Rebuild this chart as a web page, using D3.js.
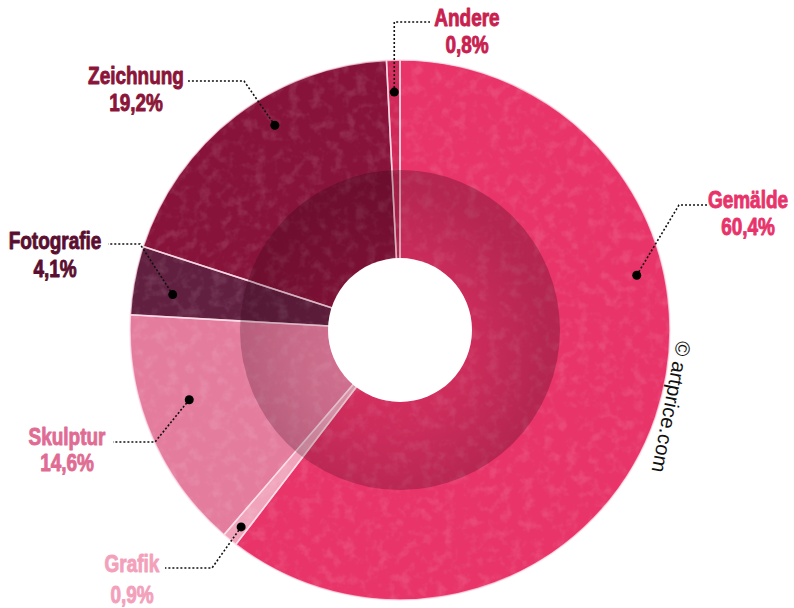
<!DOCTYPE html>
<html>
<head>
<meta charset="utf-8">
<script src="https://cdn.jsdelivr.net/npm/d3@7"></script>
<style>
  body { margin: 0; background: #fff; }
  svg { display: block; }
  .lbl { font-family: "Liberation Sans", Arial, sans-serif; font-weight: bold; font-size: 24px; }
</style>
</head>
<body>
<div id="chart"></div>
<script>
// data
const categories = ["Gemälde", "Grafik", "Skulptur", "Fotografie", "Zeichnung", "Andere"];
const shares = [60.4, 0.9, 14.6, 4.1, 19.2, 0.8];
const sliceColors = ["#e83468", "#f0a3bb", "#e47c9e", "#622040", "#87133a", "#d02858"];
const labelColors = ["#e8336a", "#f3a0bb", "#e06c93", "#5a0f30", "#8a1538", "#c8204f"];

// label layout (dot position inside slice + text/leader placement)
const layout = [
  { frac: 0.354, r: 243, tx: 748, ty: 208, gap: 27, ex: 707, ey: 205, kx: 679 },
  { frac: 0.45, r: 253, tx: 132, ty: 572, gap: 31, ex: 165, ey: 568, kx: 212 },
  { frac: 0.59, r: 222, tx: 67, ty: 445, gap: 26, ex: 113, ey: 442, kx: 155 },
  { frac: 0.38, r: 230, tx: 55, ty: 249, gap: 28, ex: 108, ey: 244, kx: 140 },
  { frac: 0.587, r: 240, tx: 136, ty: 84, gap: 27, ex: 188, ey: 81, kx: 244 },
  { frac: 0.52, r: 238, tx: 467, ty: 26, gap: 27, ex: 430, ey: 22, kx: null }
];

const W = 794, H = 608;
const cx = 400, cy = 330;
const rOuter = 270, rMid = 160, rHole = 72;

const svg = d3.select("#chart").append("svg")
  .attr("width", W).attr("height", H);

const defs = svg.append("defs");
const grad = defs.append("radialGradient").attr("id", "ring")
  .attr("cx", 0.45).attr("cy", 0.55).attr("r", 0.5);
grad.append("stop").attr("offset", "0%").attr("stop-color", "#2a0010").attr("stop-opacity", 0.06);
grad.append("stop").attr("offset", "55%").attr("stop-color", "#2a0010").attr("stop-opacity", 0.15);
grad.append("stop").attr("offset", "100%").attr("stop-color", "#2a0010").attr("stop-opacity", 0.27);

// faint grunge speckle texture
const tex = defs.append("filter").attr("id", "grunge")
  .attr("x", 0).attr("y", 0).attr("width", 1).attr("height", 1);
tex.append("feTurbulence").attr("type", "fractalNoise")
  .attr("baseFrequency", 0.09).attr("numOctaves", 3).attr("seed", 4).attr("result", "n");
tex.append("feColorMatrix").attr("in", "n").attr("type", "matrix")
  .attr("values", "0 0 0 0 1  0 0 0 0 1  0 0 0 0 1  0 0 0 -3 1.6");
tex.append("feComposite").attr("in2", "SourceGraphic").attr("operator", "in");

const g = svg.append("g").attr("transform", `translate(${cx},${cy})`);

const pie = d3.pie().sort(null).value(d => d.v);
const arcs = pie(shares.map((v, i) => ({ v, i })));

const arc = d3.arc().innerRadius(0).outerRadius(rOuter);

g.selectAll("path.slice")
  .data(arcs)
  .join("path")
  .attr("class", "slice")
  .attr("d", arc)
  .attr("fill", d => sliceColors[d.data.i]);

// texture on top of slices
g.append("circle").attr("r", rOuter)
  .attr("fill", "#000")
  .attr("filter", "url(#grunge)")
  .attr("opacity", 0.1);

// light separators
g.selectAll("path.sep")
  .data(arcs)
  .join("path")
  .attr("class", "sep")
  .attr("d", arc)
  .attr("fill", "none")
  .attr("stroke", "rgba(255,225,235,0.75)")
  .attr("stroke-width", 1.6);

// darker inner ring
g.append("path")
  .attr("d", d3.arc().innerRadius(rHole).outerRadius(rMid).startAngle(0).endAngle(2 * Math.PI)())
  .attr("fill", "url(#ring)");

// hole
g.append("circle").attr("r", rHole).attr("fill", "#fff");

// leaders + dots
const dotPos = arcs.map((d, k) => {
  const L = layout[k];
  const a = d.startAngle + (d.endAngle - d.startAngle) * L.frac;
  return [cx + L.r * Math.sin(a), cy - L.r * Math.cos(a)];
});

svg.selectAll("path.leader")
  .data(arcs)
  .join("path")
  .attr("class", "leader")
  .attr("d", (d, k) => {
    const L = layout[k], p = dotPos[k];
    const kx = L.kx === null ? p[0] : L.kx;
    return d3.line()([p, [kx, L.ey], [L.ex, L.ey]]);
  })
  .attr("fill", "none")
  .attr("stroke", "#111")
  .attr("stroke-width", 1.6)
  .attr("stroke-dasharray", "2,2");

svg.selectAll("circle.dot")
  .data(dotPos)
  .join("circle")
  .attr("class", "dot")
  .attr("cx", d => d[0]).attr("cy", d => d[1])
  .attr("r", 4.5).attr("fill", "#000");

// labels (condensed by horizontal scaling, thickened with a stroke)
const fmt = v => v.toFixed(1).replace(".", ",") + "%";
const lbl = svg.selectAll("text.lbl")
  .data(arcs)
  .join("text")
  .attr("class", "lbl")
  .attr("transform", (d, k) => `translate(${layout[k].tx},${layout[k].ty}) scale(0.79,1)`)
  .attr("text-anchor", "middle")
  .attr("fill", d => labelColors[d.data.i])
  .attr("stroke", d => labelColors[d.data.i])
  .attr("stroke-width", 0.9)
  .attr("stroke-linejoin", "round");
lbl.append("tspan")
  .attr("x", 0).attr("y", 0)
  .text(d => categories[d.data.i]);
lbl.append("tspan")
  .attr("x", 0).attr("y", (d, k) => layout[k].gap)
  .text(d => fmt(d.data.v));

// copyright
svg.append("text")
  .attr("transform", "translate(677,340) rotate(101)")
  .attr("font-family", "Liberation Sans, Arial, sans-serif")
  .attr("font-size", 20.5)
  .attr("fill", "#111")
  .text("© artprice.com");
</script>
</body>
</html>
